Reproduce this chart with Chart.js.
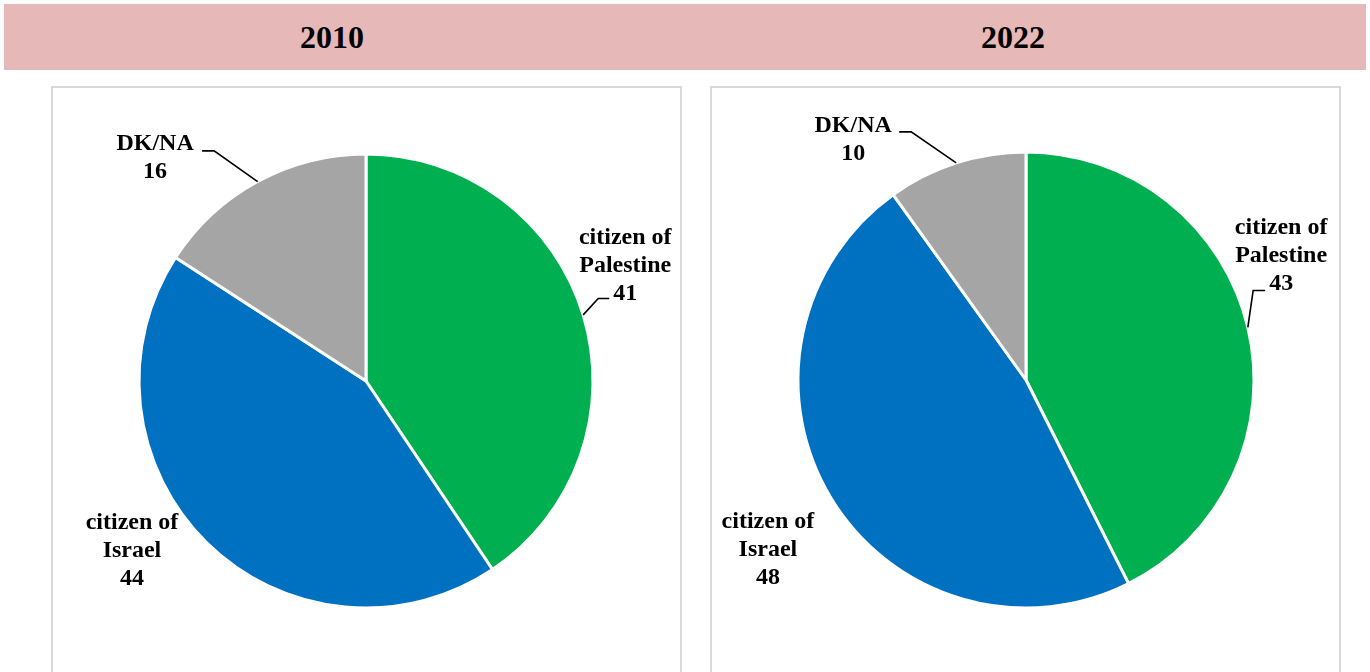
<!DOCTYPE html>
<html>
<head>
<meta charset="utf-8">
<script src="https://cdn.jsdelivr.net/npm/chart.js@4.4.1/dist/chart.umd.min.js"></script>
<style>
    body { margin: 0; background: #fff; font-family: "Liberation Serif", "Times New Roman", serif; }
    .header { position: absolute; left: 4px; top: 4px; width: 1362px; height: 66px; background: #E6B8B7; display: flex; }
    .header div { display: flex; align-items: center; justify-content: center; font-weight: bold; font-size: 32px; color: #000; }
    .panel { position: absolute; top: 86px; width: 628px; height: 600px; border: 2px solid #d9d9d9; box-sizing: border-box; }
    canvas { position: absolute; }
</style>
</head>
<body>
<div class="header">
    <div id="title0" style="width:656px"></div>
    <div id="title1" style="width:706px"></div>
</div>
<div class="panel" style="left:51px; width:631px"></div>
<div class="panel" style="left:710px; width:631px"></div>
<canvas id="pie2010" style="left:51px; top:86px; width:630px; height:590px"></canvas>
<canvas id="pie2022" style="left:711px; top:86px; width:630px; height:588px"></canvas>

<script>
// data
const years = ['2010', '2022'];
const categories = ['citizen of Palestine', 'citizen of Israel', 'DK/NA'];
const labelLines = [['citizen of', 'Palestine'], ['citizen of', 'Israel'], ['DK/NA']];
const values2010 = [41, 44, 16];
const values2022 = [43, 48, 10];
const sliceColors = ['#00B050', '#0070C0', '#A5A5A5'];

// label placement (offsets in units of radius, leader elbows in px from label centre)
const labelLayout2010 = [
    { dx: 1.142, dy: -0.509, leader: { ex: -27, hx: -16, ey: 33 } },
    { dx: -1.031, dy: 0.748, leader: null },
    { dx: -0.929, dy: -0.985, leader: { ex: 59, hx: 47, ey: -6.5 } }
];
const labelLayout2022 = [
    { dx: 1.119, dy: -0.546, leader: { ex: -28, hx: -16, ey: 35 } },
    { dx: -1.132, dy: 0.744, leader: null },
    { dx: -0.758, dy: -1.053, leader: { ex: 58, hx: 46, ey: -8 } }
];

const sliceLabels = {
    id: 'sliceLabels',
    afterDatasetsDraw(chart, args, opts) {
        const ctx = chart.ctx;
        const arcs = chart.getDatasetMeta(0).data;
        const values = chart.data.datasets[0].data;
        ctx.save();
        ctx.font = 'bold 24px "Liberation Serif", "Times New Roman", serif';
        ctx.fillStyle = '#000';
        ctx.textAlign = 'center';
        ctx.textBaseline = 'middle';
        arcs.forEach(function(arc, i) {
            var p = arc.getProps(['x', 'y', 'startAngle', 'endAngle', 'outerRadius'], true);
            var lay = opts.layout[i];
            var R = p.outerRadius;
            var cx = p.x + lay.dx * R;
            var cy = p.y + lay.dy * R;
            var lines = labelLines[i].concat([String(values[i])]);
            var lh = 28;
            var top = cy - (lines.length - 1) * lh / 2;
            lines.forEach(function(t, k) {
                ctx.fillText(t, cx, top + k * lh);
            });
            if (lay.leader) {
                var mid = (p.startAngle + p.endAngle) / 2;
                var ax = p.x + Math.cos(mid) * R;
                var ay = p.y + Math.sin(mid) * R;
                ctx.strokeStyle = '#000';
                ctx.lineWidth = 1.6;
                ctx.beginPath();
                ctx.moveTo(ax, ay);
                ctx.lineTo(cx + lay.leader.ex, cy + lay.leader.ey);
                ctx.lineTo(cx + lay.leader.hx, cy + lay.leader.ey);
                ctx.stroke();
            }
        });
        ctx.restore();
    }
};

function makePie(id, values, layout, pad) {
    new Chart(document.getElementById(id), {
        type: 'pie',
        data: {
            labels: categories,
            datasets: [{
                data: values,
                backgroundColor: sliceColors,
                borderColor: '#ffffff',
                borderWidth: 3
            }]
        },
        options: {
            responsive: false,
            animation: false,
            layout: { padding: pad },
            plugins: {
                legend: { display: false },
                tooltip: { enabled: false },
                sliceLabels: { layout: layout }
            }
        },
        plugins: [sliceLabels]
    });
}

function sizeCanvas(id) {
    var c = document.getElementById(id);
    c.width = parseInt(c.style.width);
    c.height = parseInt(c.style.height);
}

document.getElementById('title0').textContent = years[0];
document.getElementById('title1').textContent = years[1];
sizeCanvas('pie2010');
sizeCanvas('pie2022');
makePie('pie2010', values2010, labelLayout2010, 66.5);
makePie('pie2022', values2022, labelLayout2022, 64.5);
</script>
</body>
</html>
